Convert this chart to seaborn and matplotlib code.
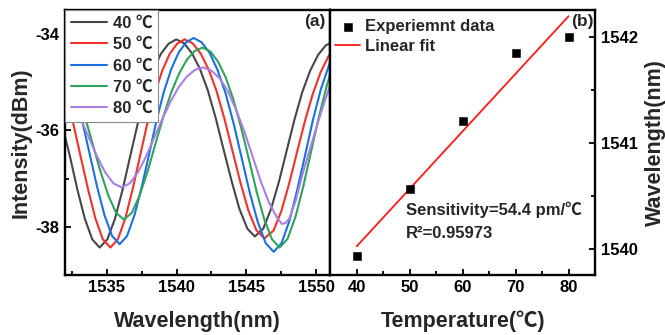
import numpy as np
import pandas as pd
import matplotlib
matplotlib.use("Agg")
import matplotlib.pyplot as plt
import seaborn as sns
from matplotlib.ticker import MultipleLocator

# ---------------- data ----------------
labels = ["40 ℃", "50 ℃", "60 ℃", "70 ℃", "80 ℃"]
colors = ["#474747", "#f2302c", "#1b6fe2", "#2fa35c", "#a97fe3"]

wl_40 = [1532.00, 1532.37, 1532.90, 1533.44, 1533.97, 1534.50, 1535.05, 1535.60, 1536.15, 1536.69,
         1537.24, 1537.79, 1538.33, 1538.88, 1539.43, 1539.98, 1540.54, 1541.11, 1541.67, 1542.24,
         1542.81, 1543.37, 1543.94, 1544.50, 1545.07, 1545.60, 1546.20, 1546.76, 1547.32, 1547.88,
         1548.44, 1549.00, 1549.56, 1550.13, 1550.69, 1551.02]
int_40 = [-36.10, -36.53, -37.22, -37.83, -38.26, -38.43, -38.26, -37.83, -37.22, -36.53,
          -35.84, -35.23, -34.76, -34.41, -34.20, -34.11, -34.19, -34.40, -34.72, -35.17,
          -35.75, -36.40, -37.05, -37.63, -38.04, -38.20, -38.04, -37.63, -37.07, -36.42,
          -35.77, -35.20, -34.76, -34.43, -34.23, -34.19]

wl_50 = [1532.00, 1532.60, 1533.13, 1533.67, 1534.20, 1534.73, 1535.27, 1535.80, 1536.33, 1536.86,
         1537.39, 1537.92, 1538.45, 1538.98, 1539.51, 1540.04, 1540.58, 1541.15, 1541.72, 1542.29,
         1542.86, 1543.43, 1544.00, 1544.57, 1545.14, 1545.71, 1546.28, 1546.94, 1547.50, 1548.06,
         1548.62, 1549.19, 1549.75, 1550.31, 1550.87, 1551.02]
int_50 = [-35.17, -35.84, -36.53, -37.22, -37.83, -38.26, -38.43, -38.26, -37.83, -37.22,
          -36.53, -35.84, -35.23, -34.76, -34.41, -34.20, -34.11, -34.19, -34.40, -34.73,
          -35.18, -35.76, -36.42, -37.08, -37.66, -38.07, -38.24, -38.08, -37.67, -37.10,
          -36.45, -35.80, -35.24, -34.79, -34.46, -34.40]

wl_60 = [1532.00, 1532.70, 1533.24, 1533.78, 1534.31, 1534.85, 1535.39, 1535.93, 1536.46, 1536.99,
         1537.52, 1538.05, 1538.57, 1539.10, 1539.63, 1540.16, 1540.69, 1541.22, 1541.79, 1542.37,
         1542.94, 1543.51, 1544.09, 1544.66, 1545.23, 1545.81, 1546.38, 1546.95, 1547.51, 1548.07,
         1548.63, 1549.20, 1549.76, 1550.32, 1551.02]
int_60 = [-34.60, -35.19, -35.79, -36.48, -37.16, -37.76, -38.19, -38.36, -38.19, -37.76,
          -37.16, -36.48, -35.79, -35.19, -34.72, -34.38, -34.17, -34.08, -34.17, -34.39,
          -34.75, -35.23, -35.86, -36.57, -37.28, -37.90, -38.34, -38.52, -38.34, -37.88,
          -37.24, -36.51, -35.78, -35.15, -34.55]

wl_70 = [1532.00, 1532.31, 1532.87, 1533.44, 1534.00, 1534.56, 1535.12, 1535.68, 1536.24, 1536.80,
         1537.36, 1537.93, 1538.49, 1539.06, 1539.62, 1540.18, 1540.74, 1541.30, 1541.86, 1542.42,
         1542.97, 1543.52, 1544.07, 1544.62, 1545.18, 1545.73, 1546.28, 1546.83, 1547.38, 1547.94,
         1548.51, 1549.07, 1549.63, 1550.19, 1550.75, 1551.02]
int_70 = [-34.63, -34.82, -35.21, -35.71, -36.28, -36.85, -37.35, -37.71, -37.85, -37.71,
          -37.35, -36.85, -36.28, -35.71, -35.21, -34.82, -34.53, -34.35, -34.28, -34.36,
          -34.57, -34.90, -35.36, -35.94, -36.60, -37.27, -37.85, -38.26, -38.43, -38.25,
          -37.79, -37.16, -36.43, -35.71, -35.07, -34.80]

wl_80 = [1532.00, 1532.56, 1533.15, 1533.73, 1534.32, 1534.90, 1535.49, 1536.07, 1536.65, 1537.24,
         1537.82, 1538.40, 1538.99, 1539.57, 1540.16, 1540.74, 1541.33, 1541.91, 1542.50, 1543.09,
         1543.68, 1544.26, 1544.85, 1545.44, 1546.03, 1546.62, 1547.21, 1547.55, 1547.80, 1548.07,
         1548.53, 1548.99, 1549.45, 1549.91, 1550.37, 1551.02]
int_80 = [-35.12, -35.40, -35.76, -36.15, -36.54, -36.87, -37.10, -37.18, -37.10, -36.87,
          -36.54, -36.15, -35.76, -35.40, -35.10, -34.88, -34.74, -34.69, -34.76, -34.92,
          -35.19, -35.57, -36.02, -36.54, -37.06, -37.50, -37.82, -37.94, -37.92, -37.83,
          -37.45, -36.93, -36.48, -36.03, -35.60, -35.03]

temps = [40, 50, 60, 70, 80]
peak_wl = [1539.925, 1540.565, 1541.20, 1541.84, 1542.00]

x1_ticks = [1535, 1540, 1545, 1550]
y1_ticks = [-38, -36, -34]
x2_ticks = [40, 50, 60, 70, 80]
y2_ticks = [1540, 1541, 1542]

# ---------------- style ----------------
sns.set_theme(style="ticks")
plt.rcParams["font.family"] = ["Liberation Sans", "Noto Sans CJK SC", "DejaVu Sans"]
plt.rcParams["font.weight"] = "bold"
plt.rcParams["axes.labelweight"] = "bold"
plt.rcParams["axes.unicode_minus"] = False

W, H = 665, 335
fig = plt.figure(figsize=(W / 100, H / 100), dpi=100)
ax1 = fig.add_axes([64.7 / W, (H - 275) / H, 265.6 / W, 265 / H])
ax2 = fig.add_axes([330.3 / W, (H - 275) / H, 264.7 / W, 265 / H])

# ---------------- left panel ----------------
curves = [(wl_40, int_40), (wl_50, int_50), (wl_60, int_60), (wl_70, int_70), (wl_80, int_80)]
for (wl, it), lab, col in zip(curves, labels, colors):
    sns.lineplot(x=wl, y=it, color=col, lw=1.5, sort=False, estimator=None, ax=ax1, label=lab)

ax1.set_xlim(1532.0, 1551.0)
ax1.set_ylim(-39.0, -33.5)
ax1.set_xticks(x1_ticks)
ax1.set_yticks(y1_ticks)
ax1.xaxis.set_minor_locator(MultipleLocator(2.5))
ax1.yaxis.set_minor_locator(MultipleLocator(1))
ax1.set_xlabel("Wavelength(nm)", fontsize=15.5, fontweight="bold")
ax1.set_ylabel("Intensity(dBm)", fontsize=15.5, fontweight="bold")
ax1.xaxis.set_label_coords(0.5, -0.135)
ax1.yaxis.set_label_coords(-0.125, 0.5)
leg1 = ax1.legend(loc="upper left", bbox_to_anchor=(0, 1), borderaxespad=0, frameon=True,
                  fancybox=False, edgecolor="#8a8a8a", framealpha=1, fontsize=12,
                  handlelength=2.2, handletextpad=0.35, labelspacing=0.38, borderpad=0.35)
leg1.get_frame().set_linewidth(0.8)
ax1.text(0.942, 0.955, "(a)", transform=ax1.transAxes, ha="center", va="center",
         fontsize=12.5, fontweight="bold")

# ---------------- right panel ----------------
sns.scatterplot(x=temps, y=peak_wl, marker="s", color="black", edgecolor="black", s=26,
                ax=ax2, label="Experiemnt data", zorder=3)
coef = np.polyfit(temps, peak_wl, 1)
fit_x = [temps[0], temps[-1]]
sns.lineplot(x=fit_x, y=np.polyval(coef, fit_x), color="#ff1a1a", lw=1.3, ax=ax2,
             label="Linear fit", estimator=None, sort=False)

ax2.set_xlim(35, 85)
ax2.set_ylim(1539.75, 1542.25)
ax2.set_xticks(x2_ticks)
ax2.set_yticks(y2_ticks)
ax2.xaxis.set_minor_locator(MultipleLocator(5))
ax2.yaxis.set_minor_locator(MultipleLocator(0.5))
ax2.yaxis.tick_right()
ax2.yaxis.set_label_position("right")
ax2.set_xlabel("Temperature(℃)", fontsize=15.5, fontweight="bold")
ax2.set_ylabel("Wavelength(nm)", fontsize=15.5, fontweight="bold")
ax2.xaxis.set_label_coords(0.5, -0.135)
ax2.yaxis.set_label_coords(1.19, 0.5)
ax2.legend(loc="upper left", bbox_to_anchor=(0.0, 0.985), borderaxespad=0, frameon=False,
           fontsize=12, handlelength=1.5, handletextpad=0.3, labelspacing=0.3, borderpad=0.3)
ax2.text(0.286, 0.245, "Sensitivity=54.4 pm/℃", transform=ax2.transAxes, ha="left",
         va="center", fontsize=12, fontweight="bold")
ax2.text(0.286, 0.158, "R²=0.95973", transform=ax2.transAxes, ha="left",
         va="center", fontsize=12, fontweight="bold")
ax2.text(0.951, 0.955, "(b)", transform=ax2.transAxes, ha="center", va="center",
         fontsize=12.5, fontweight="bold")

for ax in (ax1, ax2):
    for sp in ax.spines.values():
        sp.set_linewidth(1.7)
        sp.set_color("black")
    ax.tick_params(which="both", direction="in", width=1.3, colors="black", labelsize=12)
    ax.tick_params(which="major", length=4.5)
    ax.tick_params(which="minor", length=3)
    for t in ax.get_xticklabels() + ax.get_yticklabels():
        t.set_fontweight("bold")
ax2.tick_params(axis="y", which="both", left=False, right=True, pad=4)

fig.savefig("out.png", dpi=100)
